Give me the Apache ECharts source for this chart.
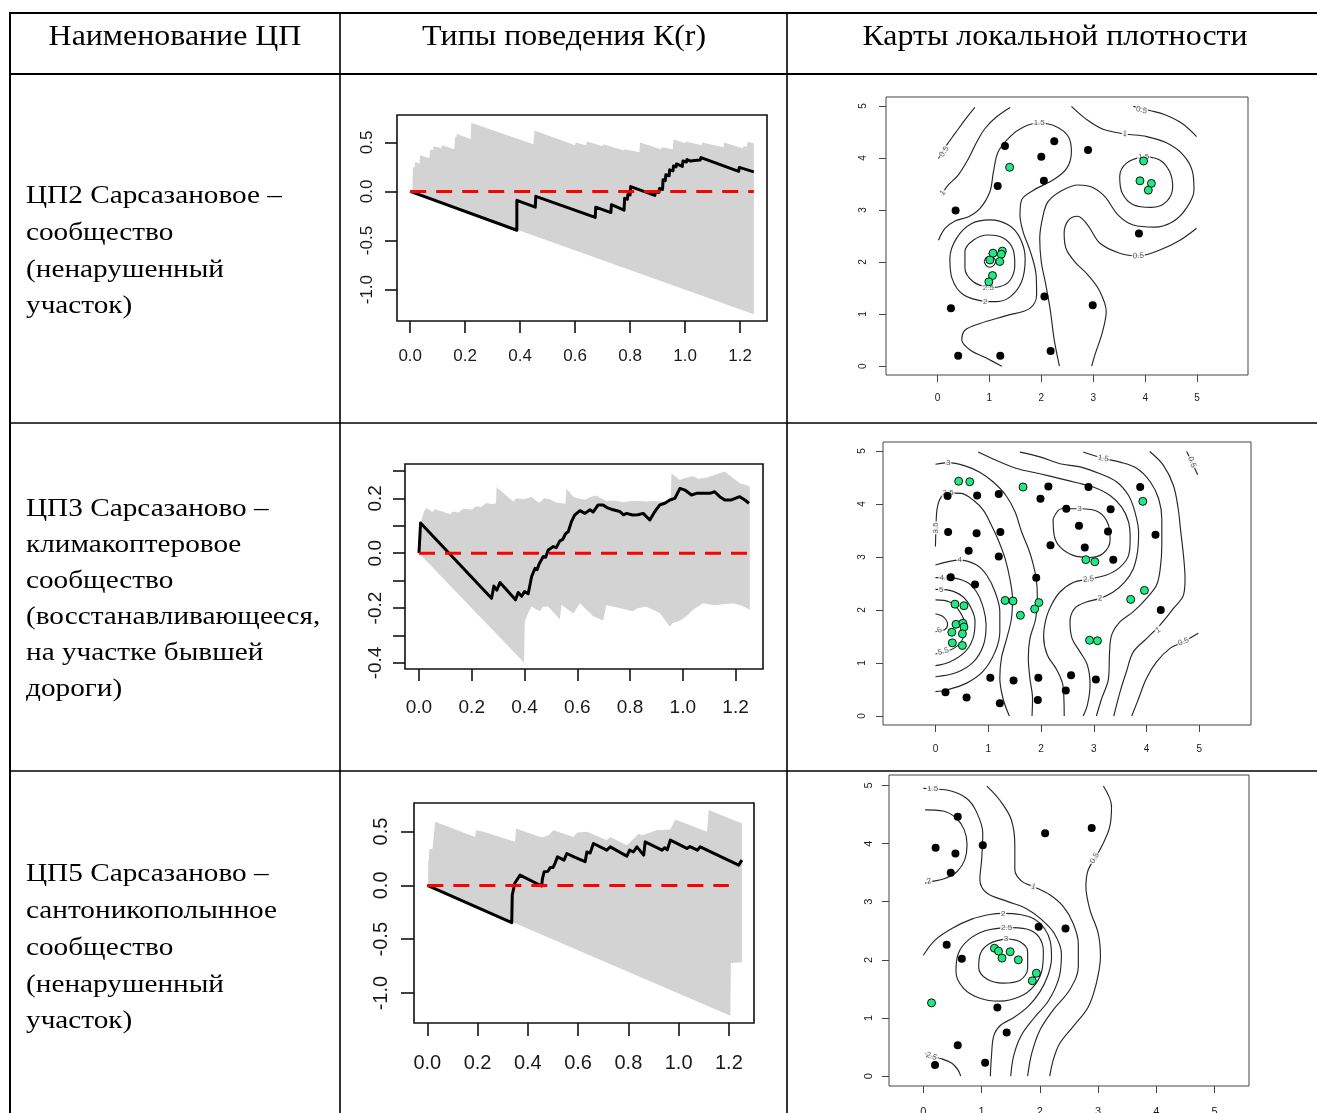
<!DOCTYPE html>
<html><head><meta charset="utf-8">
<script src="https://cdn.jsdelivr.net/npm/echarts@6/dist/echarts.min.js"></script>
<style>html,body{margin:0;padding:0;background:#fff}#c{width:1317px;height:1113px}</style>
</head><body><div id="c"></div>
<script>
// ================= DATA =================
const headers = ['Наименование ЦП', 'Типы поведения К(r)', 'Карты локальной плотности'];
const rowTexts = [
  ['ЦП2 Сарсазановое –', 'сообщество', '(ненарушенный', 'участок)'],
  ['ЦП3 Сарсазаново –', 'климакоптеровое', 'сообщество', '(восстанавливающееся,', 'на участке бывшей', 'дороги)'],
  ['ЦП5 Сарсазаново –', 'сантоникополынное', 'сообщество', '(ненарушенный', 'участок)']
];
const kXTicks = [0, 0.2, 0.4, 0.6, 0.8, 1.0, 1.2];
const k1YTicks = [-1, -0.5, 0, 0.5];
const k2YTicks = [-0.4, -0.3, -0.2, -0.1, 0, 0.1, 0.2, 0.3];
const k2YLabels = [-0.4, -0.2, 0, 0.2];
const k3YTicks = [-1, -0.5, 0, 0.5];
const mapTicks = [0, 1, 2, 3, 4, 5];

// K(r) row 1
const k1Line = [[0,0],[0.388,-0.395],[0.388,-0.09],[0.455,-0.16],[0.457,-0.05],[0.673,-0.265],[0.675,-0.16],[0.73,-0.215],[0.732,-0.135],[0.778,-0.19],[0.78,-0.07],[0.79,-0.08],[0.792,-0.03],[0.8,-0.035],[0.802,0.05],[0.89,-0.04],[0.892,0.0],[0.905,-0.01],[0.907,0.03],[0.918,0.02],[0.92,0.12],[0.928,0.11],[0.93,0.17],[0.942,0.16],[0.944,0.22],[0.956,0.21],[0.958,0.26],[0.967,0.25],[0.969,0.28],[0.99,0.255],[0.992,0.31],[1.005,0.3],[1.007,0.325],[1.02,0.31],[1.022,0.33],[1.035,0.315],[1.037,0.335],[1.055,0.32],[1.058,0.345],[1.195,0.205],[1.197,0.245],[1.25,0.2]];
const k1Hi = [[0,0],[0.008,0],[0.01,0.25],[0.016,0.24],[0.018,0.30],[0.034,0.285],[0.036,0.37],[0.07,0.34],[0.073,0.43],[0.083,0.42],[0.085,0.46],[0.113,0.44],[0.115,0.47],[0.16,0.43],[0.164,0.56],[0.168,0.555],[0.17,0.585],[0.2,0.555],[0.22,0.535],[0.222,0.70],[0.448,0.48],[0.452,0.62],[0.60,0.47],[0.602,0.50],[0.64,0.47],[0.642,0.51],[0.70,0.46],[0.702,0.48],[0.776,0.42],[0.78,0.43],[0.834,0.40],[0.836,0.50],[0.912,0.43],[0.915,0.45],[0.955,0.43],[0.958,0.53],[1.0,0.49],[1.002,0.51],[1.06,0.47],[1.062,0.50],[1.14,0.45],[1.142,0.50],[1.21,0.44],[1.212,0.46],[1.225,0.455],[1.227,0.507],[1.25,0.49]];
const k1Lo = [[0,0],[1.25,-1.25]];
const k1Ref = [[0,0],[1.25,0]];

// K(r) row 2
const k2Line = [[0,0],[0.004,0],[0.006,0.11],[0.275,-0.164],[0.284,-0.12],[0.295,-0.135],[0.307,-0.107],[0.366,-0.17],[0.376,-0.143],[0.389,-0.157],[0.40,-0.14],[0.414,-0.148],[0.427,-0.085],[0.44,-0.055],[0.448,-0.06],[0.455,-0.04],[0.471,-0.012],[0.48,-0.015],[0.49,0.012],[0.509,0.024],[0.52,0.02],[0.534,0.045],[0.545,0.05],[0.555,0.07],[0.566,0.079],[0.578,0.115],[0.59,0.139],[0.61,0.155],[0.629,0.145],[0.648,0.158],[0.66,0.15],[0.679,0.176],[0.698,0.176],[0.715,0.165],[0.736,0.158],[0.761,0.152],[0.775,0.14],[0.787,0.145],[0.809,0.139],[0.83,0.14],[0.85,0.145],[0.875,0.121],[0.894,0.152],[0.913,0.176],[0.932,0.182],[0.951,0.194],[0.97,0.2],[0.989,0.236],[1.008,0.23],[1.033,0.212],[1.052,0.218],[1.077,0.218],[1.102,0.218],[1.121,0.224],[1.14,0.206],[1.159,0.194],[1.184,0.194],[1.216,0.206],[1.235,0.194],[1.251,0.182]];
const k2Hi = [[0,0],[0.006,0.11],[0.02,0.155],[0.03,0.165],[0.05,0.15],[0.06,0.16],[0.08,0.155],[0.1,0.148],[0.117,0.142],[0.13,0.152],[0.15,0.148],[0.165,0.16],[0.18,0.162],[0.2,0.158],[0.215,0.17],[0.235,0.168],[0.256,0.183],[0.28,0.178],[0.292,0.182],[0.294,0.24],[0.357,0.188],[0.37,0.2],[0.395,0.197],[0.41,0.2],[0.427,0.205],[0.445,0.19],[0.458,0.185],[0.475,0.2],[0.496,0.197],[0.52,0.185],[0.555,0.18],[0.559,0.235],[0.585,0.206],[0.6,0.2],[0.63,0.195],[0.65,0.205],[0.673,0.21],[0.69,0.2],[0.71,0.19],[0.74,0.192],[0.774,0.186],[0.8,0.19],[0.83,0.19],[0.86,0.188],[0.89,0.19],[0.913,0.188],[0.94,0.19],[0.955,0.2],[0.957,0.29],[0.989,0.267],[1.01,0.275],[1.039,0.28],[1.06,0.27],[1.09,0.276],[1.12,0.285],[1.159,0.298],[1.216,0.255],[1.235,0.25],[1.254,0.242]];
const k2Lo = [[0,0],[0.398,-0.398],[0.401,-0.25],[0.415,-0.215],[0.427,-0.194],[0.445,-0.205],[0.458,-0.212],[0.47,-0.195],[0.49,-0.194],[0.534,-0.242],[0.54,-0.188],[0.585,-0.22],[0.61,-0.182],[0.66,-0.23],[0.698,-0.245],[0.71,-0.19],[0.76,-0.2],[0.81,-0.212],[0.83,-0.2],[0.862,-0.195],[0.913,-0.218],[0.951,-0.268],[0.96,-0.255],[0.99,-0.245],[1.014,-0.23],[1.039,-0.206],[1.077,-0.182],[1.12,-0.19],[1.19,-0.182],[1.22,-0.19],[1.254,-0.206]];
const k2Ref = [[0,0],[1.25,0]];

// K(r) row 3
const k3Line = [[0,0],[0.336,-0.346],[0.338,-0.09],[0.345,-0.08],[0.348,0.02],[0.355,0.025],[0.369,0.096],[0.455,-0.006],[0.458,0.06],[0.465,0.127],[0.48,0.13],[0.489,0.167],[0.5,0.165],[0.509,0.21],[0.518,0.265],[0.544,0.235],[0.555,0.296],[0.588,0.26],[0.628,0.22],[0.635,0.31],[0.648,0.3],[0.661,0.389],[0.714,0.327],[0.728,0.358],[0.794,0.272],[0.805,0.327],[0.82,0.31],[0.834,0.358],[0.861,0.281],[0.867,0.404],[0.934,0.327],[0.945,0.35],[0.955,0.33],[0.967,0.42],[1.033,0.343],[1.045,0.36],[1.075,0.327],[1.086,0.358],[1.239,0.188],[1.252,0.235]];
const k3Hi = [[0,0],[0.003,0],[0.004,0.235],[0.006,0.24],[0.008,0.33],[0.021,0.343],[0.031,0.59],[0.19,0.45],[0.194,0.512],[0.223,0.497],[0.349,0.404],[0.353,0.528],[0.449,0.45],[0.462,0.45],[0.482,0.466],[0.502,0.512],[0.582,0.45],[0.595,0.488],[0.635,0.497],[0.714,0.42],[0.728,0.45],[0.794,0.373],[0.841,0.48],[0.854,0.466],[0.914,0.512],[0.967,0.52],[0.987,0.611],[1.113,0.497],[1.12,0.70],[1.252,0.574]];
const k3Lo = [[0,0],[1.206,-1.21],[1.208,-0.72],[1.252,-0.715]];
const k3Ref = [[0,0],[1.2,0]];

// Map 1 (ЦП2)
const map1Black = [[1.30,4.23],[2.25,4.32],[2.00,4.02],[2.90,4.15],[1.16,3.46],[2.05,3.56],[0.35,2.99],[3.88,2.55],[0.26,1.11],[2.06,1.34],[2.99,1.17],[0.40,0.20],[1.21,0.20],[2.18,0.29]];
const map1Green = [[1.39,3.82],[1.01,2.04],[1.07,2.17],[1.25,2.21],[1.23,2.15],[1.20,2.01],[1.06,1.74],[0.99,1.62],[3.97,3.94],[3.90,3.56],[4.12,3.51],[4.06,3.38]];
const map1Contours = [
  [[0.72,4.97],[0.53,4.73],[0.34,4.47],[0.18,4.25],[0.02,3.99]],
  [[1.40,4.97],[1.14,4.79],[0.92,4.57],[0.76,4.31],[0.60,3.99],[0.40,3.67],[0.21,3.48],[0.08,3.29]],
  [[0.02,2.42],[0.15,2.65],[0.34,2.79],[0.60,2.87],[0.82,3.03],[1.01,3.35],[1.08,3.74],[1.17,4.12],[1.40,4.41],[1.65,4.59],[1.96,4.67],[2.29,4.60],[2.52,4.41],[2.58,4.12],[2.49,3.80],[2.23,3.58],[1.85,3.38],[1.62,3.19],[1.59,2.90],[1.65,2.58],[1.79,2.20],[1.90,1.75],[1.91,1.37],[1.78,1.11],[1.33,0.97],[0.82,0.82],[0.53,0.69],[0.47,0.50],[0.63,0.31],[0.95,0.15],[1.24,0.0]],
  [[3.77,4.99],[4.09,4.91],[4.38,4.83],[4.70,4.67],[4.99,4.41]],
  [[2.58,4.99],[2.87,4.74],[3.19,4.55],[3.61,4.46],[4.03,4.41],[4.41,4.29],[4.73,4.06],[4.91,3.74],[4.94,3.38],[4.79,3.03],[4.54,2.78],[4.18,2.67],[3.77,2.71],[3.48,2.90],[3.22,3.26],[2.97,3.44],[2.71,3.48],[2.39,3.37],[2.13,3.16],[2.03,2.87],[1.97,2.45],[2.0,2.0],[2.08,1.6],[2.17,1.1],[2.25,0.5],[2.35,0]],
  [[3.97,4.03],[4.28,3.96],[4.47,3.74],[4.53,3.45],[4.41,3.16],[4.12,3.05],[3.77,3.10],[3.56,3.32],[3.51,3.64],[3.64,3.90],[3.97,4.03]],
  [[4.99,2.65],[4.67,2.42],[4.28,2.23],[3.87,2.12],[3.51,2.17],[3.13,2.36],[2.90,2.70],[2.70,2.88],[2.52,2.80],[2.44,2.55],[2.48,2.25],[2.65,2.0],[2.90,1.75],[3.12,1.45],[3.25,1.05],[3.17,0.63],[3.04,0.24],[2.97,0]],
  [[0.92,1.24],[0.50,1.37],[0.28,1.69],[0.24,2.07],[0.37,2.46],[0.66,2.74],[1.01,2.81],[1.37,2.71],[1.59,2.46],[1.69,2.07],[1.62,1.62],[1.40,1.33],[1.14,1.24],[0.92,1.24]],
  [[0.98,1.51],[0.69,1.62],[0.53,1.88],[0.53,2.20],[0.69,2.42],[0.98,2.52],[1.27,2.46],[1.46,2.23],[1.49,1.94],[1.40,1.65],[1.21,1.53],[0.98,1.51]],
  [[0.90,2.01],[0.94,2.09],[1.01,2.12],[1.08,2.09],[1.12,2.01],[1.08,1.93],[1.01,1.90],[0.94,1.93],[0.90,2.01]]
];
const map1Labels = [[0.13,4.12,'0.5'],[0.10,3.33,'1'],[1.96,4.67,'1.5'],[3.61,4.46,'1'],[3.93,4.92,'0.5'],[3.97,4.03,'1.5'],[3.87,2.12,'0.5'],[0.92,1.24,'2'],[0.98,1.51,'2.5'],[1.0,2.12,'3']];
const map1LabelAngles = [58, 55, 0, -3, -15, 0, 5, 0, 0, 0];

// Map 2 (ЦП3)
const map2Black = [[0.23,4.15],[0.79,4.16],[1.20,4.19],[1.99,4.10],[2.14,4.33],[2.90,4.32],[2.48,3.91],[3.32,3.90],[3.88,4.32],[0.24,3.47],[0.78,3.45],[1.23,3.47],[0.63,3.12],[1.20,3.01],[2.18,3.22],[2.72,3.59],[3.27,3.48],[2.83,3.18],[3.37,2.95],[4.17,3.42],[0.29,2.62],[0.75,2.48],[1.91,2.61],[4.27,2.00],[1.04,0.72],[1.48,0.67],[1.95,0.72],[2.47,0.48],[2.57,0.77],[3.04,0.69],[0.19,0.45],[0.59,0.35],[1.22,0.24],[1.94,0.30]];
const map2Green = [[0.44,4.43],[0.65,4.42],[1.66,4.32],[3.93,4.05],[2.85,2.95],[3.02,2.91],[3.96,2.37],[3.70,2.20],[1.32,2.18],[1.47,2.17],[1.61,1.90],[1.88,2.02],[1.96,2.14],[2.92,1.43],[3.07,1.42],[0.37,2.11],[0.54,2.08],[0.39,1.73],[0.52,1.75],[0.54,1.68],[0.31,1.58],[0.51,1.55],[0.32,1.38],[0.51,1.33]];
const map2Contours = [
  [[0,4.75],[0.24,4.78],[0.56,4.72],[0.84,4.60],[1.09,4.42],[1.33,4.17],[1.51,3.85],[1.63,3.48],[1.76,3.16],[1.84,2.91],[1.91,2.59],[1.93,2.28],[1.90,1.84],[1.79,1.46],[1.76,1.09],[1.79,0.71],[1.84,0.33],[1.83,0]],
  [[0,3.2],[0.01,3.55],[0.03,3.9],[0.10,4.12],[0.24,4.21],[0.49,4.20],[0.72,4.07],[0.91,3.88],[1.06,3.60],[1.19,3.32],[1.32,2.97],[1.41,2.59],[1.46,2.22],[1.44,1.84],[1.35,1.46],[1.25,1.09],[1.22,0.71],[1.28,0.33],[1.40,0]],
  [[0,2.85],[0.46,2.94],[0.78,2.85],[0.97,2.66],[1.13,2.34],[1.22,1.97],[1.22,1.59],[1.13,1.21],[0.90,0.84],[0.59,0.62],[0.21,0.49],[0,0.46]],
  [[0,2.61],[0.21,2.61],[0.59,2.53],[0.78,2.34],[0.91,2.03],[0.96,1.71],[0.91,1.34],[0.72,1.02],[0.40,0.82],[0,0.74]],
  [[0,2.39],[0.27,2.37],[0.52,2.25],[0.68,2.03],[0.75,1.78],[0.71,1.46],[0.56,1.21],[0.27,1.02],[0,0.95]],
  [[0,2.19],[0.27,2.15],[0.46,1.97],[0.56,1.71],[0.52,1.46],[0.37,1.29],[0.15,1.2],[0,1.17]],
  [[0,1.93],[0.15,1.87],[0.23,1.73],[0.18,1.63],[0,1.59]],
  [[2.23,3.72],[2.39,3.91],[2.73,3.91],[3.09,3.85],[3.28,3.60],[3.31,3.32],[3.18,3.07],[2.93,2.99],[2.61,3.03],[2.36,3.19],[2.25,3.41],[2.23,3.72]],
  [[0.81,4.98],[1.16,4.82],[1.54,4.67],[1.98,4.57],[2.36,4.48],[2.68,4.40],[2.99,4.32],[3.31,4.16],[3.53,3.94],[3.66,3.66],[3.69,3.35],[3.66,3.03],[3.50,2.81],[3.24,2.66],[2.90,2.58],[2.61,2.52],[2.36,2.34],[2.20,2.10],[2.10,1.85],[2.05,1.5],[2.12,1.15],[2.30,0.87],[2.42,0.55],[2.44,0]],
  [[1.60,4.98],[1.98,4.89],[2.36,4.76],[2.74,4.70],[3.12,4.57],[3.43,4.42],[3.66,4.16],[3.78,3.85],[3.85,3.47],[3.83,3.10],[3.75,2.78],[3.59,2.53],[3.37,2.34],[3.12,2.22],[2.86,2.15],[2.64,2.03],[2.55,1.78],[2.59,1.46],[2.74,1.21],[2.88,0.96],[2.93,0.58],[2.88,0.21],[2.80,0]],
  [[2.80,4.98],[3.18,4.86],[3.50,4.79],[3.82,4.67],[4.07,4.42],[4.23,4.10],[4.29,3.72],[4.29,3.22],[4.26,2.78],[4.19,2.47],[4.00,2.22],[3.75,1.97],[3.50,1.78],[3.34,1.53],[3.30,1.21],[3.28,0.71],[3.15,0.33],[3.05,0]],
  [[4.06,4.99],[4.32,4.73],[4.51,4.35],[4.60,3.91],[4.65,3.47],[4.70,3.03],[4.73,2.59],[4.70,2.28],[4.51,2.03],[4.25,1.71],[4.00,1.46],[3.75,1.21],[3.62,0.84],[3.50,0.46],[3.38,0]],
  [[4.76,4.99],[4.86,4.79],[4.97,4.55]],
  [[4.98,1.56],[4.70,1.40],[4.45,1.28],[4.19,1.02],[4.0,0.71],[3.85,0.33],[3.72,0]]
];
const map2Labels = [[0.24,4.78,'3'],[0.24,4.21,'3.5'],[0.01,3.55,'3.5'],[0.46,2.94,'4'],[0.18,2.61,'4.5'],[0.11,2.39,'5'],[0.15,1.22,'5.5'],[0.08,1.62,'6'],[2.73,3.91,'3'],[2.90,2.58,'2.5'],[3.12,2.22,'2'],[3.18,4.86,'1.5'],[4.22,1.62,'1'],[4.70,1.40,'0.5'],[4.86,4.79,'0.5']];
const map2LabelAngles = [0, 0, 90, 0, 0, 0, 15, 30, 0, 5, 5, -10, 30, 20, -70];

// Map 3 (ЦП5)
const map3Black = [[0.59,4.46],[0.21,3.93],[0.55,3.83],[0.47,3.50],[1.02,3.97],[2.09,4.18],[2.89,4.27],[1.98,2.57],[2.44,2.54],[0.40,2.26],[0.66,2.02],[1.27,1.18],[1.43,0.75],[0.59,0.53],[0.20,0.19],[1.06,0.23]];
const map3Green = [[0.14,1.26],[1.22,2.20],[1.29,2.15],[1.49,2.14],[1.35,2.03],[1.63,2.00],[1.94,1.77],[1.87,1.64]];
const map3Contours = [
  [[0,4.95],[0.16,4.94],[0.46,4.91],[0.74,4.78],[0.91,4.55],[1.02,4.18],[1.0,3.72],[0.97,3.38],[1.09,3.15],[1.43,3.01],[1.77,2.88],[2.02,2.70],[2.25,2.45],[2.37,2.1],[2.33,1.7],[2.15,1.3],[1.9,1.0],[1.68,0.7],[1.55,0.35],[1.5,0]],
  [[1.09,4.99],[1.31,4.75],[1.51,4.41],[1.57,3.95],[1.57,3.55],[1.69,3.35],[1.89,3.26],[2.17,3.12],[2.4,2.92],[2.57,2.63],[2.66,2.28],[2.66,1.88],[2.51,1.48],[2.23,1.14],[2.0,0.79],[1.86,0.39],[1.79,0]],
  [[3.09,4.99],[3.23,4.64],[3.20,4.29],[3.09,4.01],[2.96,3.77],[2.83,3.55],[2.79,3.26],[2.86,2.86],[3.0,2.46],[3.04,2.06],[2.97,1.60],[2.83,1.19],[2.57,0.85],[2.34,0.56],[2.23,0.28],[2.17,0]],
  [[0,2.08],[0.2,2.34],[0.49,2.54],[0.83,2.70],[1.14,2.78],[1.37,2.80],[1.66,2.78],[1.91,2.70],[2.08,2.54],[2.18,2.31],[2.2,2.03],[2.14,1.74],[2.0,1.45],[1.8,1.2],[1.54,1.0],[1.33,0.88],[1.21,0.70],[1.17,0.36],[1.15,0]],
  [[1.43,2.56],[1.77,2.53],[1.98,2.40],[2.06,2.14],[2.03,1.80],[1.89,1.54],[1.66,1.37],[1.31,1.29],[0.97,1.34],[0.69,1.51],[0.56,1.80],[0.6,2.11],[0.77,2.34],[1.06,2.50],[1.43,2.56]],
  [[1.42,2.36],[1.66,2.31],[1.79,2.14],[1.79,1.85],[1.66,1.65],[1.37,1.60],[1.09,1.67],[0.95,1.87],[0.98,2.11],[1.14,2.28],[1.42,2.36]],
  [[0.03,4.58],[0.34,4.56],[0.56,4.44],[0.70,4.24],[0.75,3.98],[0.71,3.72],[0.58,3.52],[0.37,3.40],[0.11,3.34],[0.03,3.32]],
  [[0.03,0.39],[0.14,0.34],[0.31,0.30],[0.49,0.22],[0.6,0.10],[0.64,0]]
];
const map3Labels = [[0.16,4.94,'1.5'],[0.10,3.35,'2'],[1.89,3.26,'1'],[2.94,3.75,'0.5'],[1.37,2.80,'2'],[1.43,2.56,'2.5'],[1.42,2.36,'3'],[0.14,0.34,'2.5']];
const map3LabelAngles = [0, 15, -20, 60, 0, 0, 0, -20];

// ================= LAYOUT / STYLE =================
const SERIF = '"Liberation Serif", "Times New Roman", serif';
const SANS = '"Liberation Sans", Arial, Helvetica, sans-serif';
const bodyFont = '26px ' + SERIF;
const bodyScaleX = 1.125;
const headFont = '29px ' + SERIF;
const headScaleX = 1.1;

const kPanels = [
  {grid:{left:397, top:115, width:370, height:206}, x:[-0.048,1.298], y:[-1.32,0.779], yTicks:k1YTicks, yLabels:k1YTicks, line:k1Line, hi:k1Hi, lo:k1Lo, ref:k1Ref, fs:17, xm:27, ym:21, tick:12},
  {grid:{left:405, top:464, width:358, height:205}, x:[-0.053,1.304], y:[-0.422,0.325], yTicks:k2YTicks, yLabels:k2YLabels, line:k2Line, hi:k2Hi, lo:k2Lo, ref:k2Ref, fs:19, xm:29, ym:20, tick:12},
  {grid:{left:414, top:803, width:340, height:220}, x:[-0.053,1.30], y:[-1.278,0.765], yTicks:k3YTicks, yLabels:k3YTicks, line:k3Line, hi:k3Hi, lo:k3Lo, ref:k3Ref, fs:20, xm:30, ym:23, tick:13}
];
const mapPanels = [
  {grid:{left:886, top:97, width:362, height:278}, x:[-0.99,5.98], y:[-0.17,5.17], black:map1Black, green:map1Green, contours:map1Contours, labels:map1Labels, angles:map1LabelAngles, fs:10, xm:18, ym:18},
  {grid:{left:883, top:442, width:368, height:283}, x:[-0.994,5.98], y:[-0.17,5.17], black:map2Black, green:map2Green, contours:map2Contours, labels:map2Labels, angles:map2LabelAngles, fs:10, xm:19, ym:16},
  {grid:{left:889, top:775, width:360, height:311}, x:[-0.59,5.59], y:[-0.17,5.18], black:map3Black, green:map3Green, contours:map3Contours, labels:map3Labels, angles:map3LabelAngles, fs:11, xm:20, ym:15}
];
const rowTextY = [[196,233,270,306],[509,545,581,617,653,689],[874,911,948,985,1021]];
const headerY = 37;
const headerX = [175, 564, 1055];

// ================= BUILD =================
const grids = [], xAxes = [], yAxes = [], series = [];
function axis(dim, gi, range, ticks, labels, o) {
  return {
    type:'value', gridIndex:gi, min:range[0], max:range[1],
    position: dim === 'x' ? 'bottom' : 'left',
    axisLine:{show:false, onZero:false},
    splitLine:{show:false},
    axisTick:{show:true, inside:false, length:o.tick, lineStyle:{color:o.tc, width:o.tw}, customValues:ticks},
    axisLabel:{show:true, customValues:labels, formatter:o.fmt, fontSize:o.fs, color:'#1a1a1a', fontFamily:SANS, margin: dim === 'x' ? o.xm : o.ym, rotate: dim === 'y' ? 90 : 0}
  };
}
let gi = 0;
kPanels.forEach(function (p) {
  grids.push(Object.assign({show:true, borderColor:'#111', borderWidth:1.6, backgroundColor:'transparent', containLabel:false, outerBoundsMode:'none'}, p.grid));
  const o = {tick:p.tick, tc:'#111', tw:1.6, fmt:function (v) { return (+v).toFixed(1); }, fs:p.fs, xm:p.xm, ym:p.ym};
  xAxes.push(axis('x', gi, p.x, kXTicks, kXTicks, o));
  yAxes.push(axis('y', gi, p.y, p.yTicks, p.yLabels, o));
  const poly = p.hi.concat(p.lo.slice().reverse());
  series.push({type:'custom', xAxisIndex:gi, yAxisIndex:gi, data:poly, silent:true, z:1,
    renderItem:function (params, api) {
      if (params.dataIndex !== 0) return null;
      return {type:'polygon', shape:{points:poly.map(function (d) { return api.coord(d); })}, style:{fill:'#d3d3d3'}};
    }});
  series.push({type:'line', xAxisIndex:gi, yAxisIndex:gi, data:p.line, symbol:'none', silent:true, z:3,
    lineStyle:{color:'#000', width:3, join:'round'}});
  series.push({type:'line', xAxisIndex:gi, yAxisIndex:gi, data:p.ref, symbol:'none', silent:true, z:4,
    lineStyle:{color:'#ff0000', width:3, type:[16,10]}});
  gi++;
});
mapPanels.forEach(function (p) {
  grids.push(Object.assign({show:true, borderColor:'#444', borderWidth:1, backgroundColor:'transparent', containLabel:false, outerBoundsMode:'none'}, p.grid));
  const o = {tick:7, tc:'#444', tw:1, fmt:function (v) { return String(Math.round(v)); }, fs:p.fs, xm:p.xm, ym:p.ym};
  xAxes.push(axis('x', gi, p.x, mapTicks, mapTicks, o));
  yAxes.push(axis('y', gi, p.y, mapTicks, mapTicks, o));
  p.contours.forEach(function (c) {
    series.push({type:'line', xAxisIndex:gi, yAxisIndex:gi, data:c, symbol:'none', smooth:0.35, silent:true, z:2,
      lineStyle:{color:'#262626', width:1.15}});
  });
  series.push({type:'scatter', xAxisIndex:gi, yAxisIndex:gi, silent:true, z:3, symbolSize:1,
    itemStyle:{color:'rgba(0,0,0,0)'},
    data:p.labels.map(function (l, i) { return {value:[l[0], l[1]], name:l[2], label:{rotate:p.angles[i]}}; }),
    label:{show:true, position:'inside', formatter:'{b}', fontSize:8, color:'#333', fontFamily:SANS, backgroundColor:'#fff', padding:[0,1]}});
  series.push({type:'scatter', xAxisIndex:gi, yAxisIndex:gi, data:p.black, symbolSize:8, silent:true, z:5,
    itemStyle:{color:'#000', opacity:1}});
  series.push({type:'scatter', xAxisIndex:gi, yAxisIndex:gi, data:p.green, symbolSize:8, silent:true, z:6,
    itemStyle:{color:'#22e884', borderColor:'#000', borderWidth:0.9, opacity:1}});
  gi++;
});

// table lines + texts
const g = [];
function hl(y, x1, x2, w) { g.push({type:'line', shape:{x1:x1, y1:y, x2:x2, y2:y}, style:{stroke:'#000', lineWidth:w}, z:100}); }
function vl(x, y1, y2, w) { g.push({type:'line', shape:{x1:x, y1:y1, x2:x, y2:y2}, style:{stroke:'#000', lineWidth:w}, z:100}); }
hl(13, 9, 1317, 2); hl(74, 9, 1317, 2); hl(423, 9, 1317, 1.6); hl(771, 9, 1317, 1.6);
vl(10, 12, 1113, 2); vl(340, 12, 1113, 1.6); vl(787, 12, 1113, 1.6);
headers.forEach(function (t, i) {
  g.push({type:'text', x:headerX[i], y:headerY, scaleX:headScaleX, z:100, style:{text:t, font:headFont, fill:'#000', align:'center', verticalAlign:'middle'}});
});
rowTexts.forEach(function (lines, r) {
  lines.forEach(function (t, j) {
    g.push({type:'text', x:26, y:rowTextY[r][j], scaleX:bodyScaleX, z:100, style:{text:t, font:bodyFont, fill:'#000', align:'left', verticalAlign:'middle'}});
  });
});

const chart = echarts.init(document.getElementById('c'), null, {renderer:'canvas', width:1317, height:1113});
chart.setOption({
  animation:false,
  backgroundColor:'#fff',
  grid:grids, xAxis:xAxes, yAxis:yAxes, series:series,
  graphic:{elements:g}
});
</script></body></html>
